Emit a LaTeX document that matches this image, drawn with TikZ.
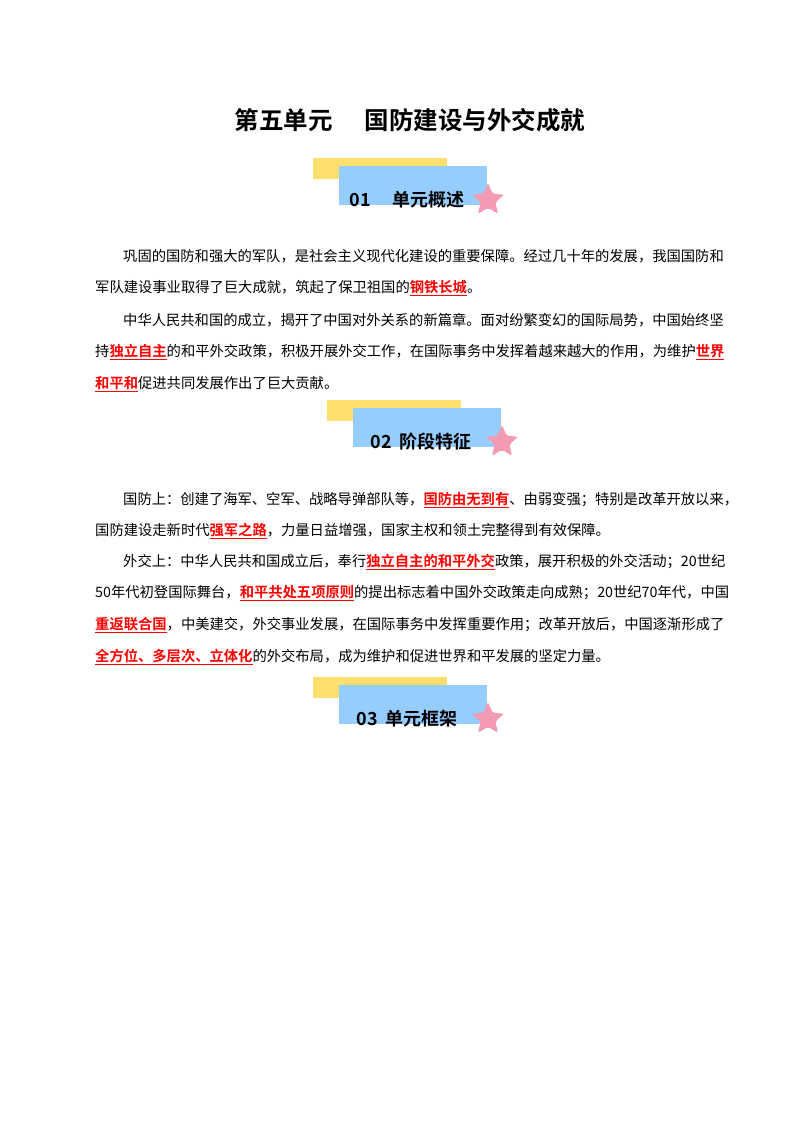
\documentclass[tikz,border=0pt]{standalone}
\usepackage{fontspec}
\setmainfont{Noto Sans CJK SC}[BoldFont=Noto Sans CJK SC Bold]
\usetikzlibrary{shapes.geometric}
\definecolor{ylw}{RGB}{255,224,110}
\definecolor{blu}{RGB}{150,205,255}
\definecolor{pnk}{RGB}{242,155,178}
\newcommand{\hl}[1]{\textcolor{red}{\bfseries\underline{#1}}}
\tikzset{
 ln/.style={anchor=west,inner sep=0pt,font=\fontsize{14.3}{16}\selectfont},
 hd/.style={inner sep=0pt,font=\fontsize{18}{20}\selectfont\bfseries},
 pstar/.style={star,star points=5,star point ratio=2.2,fill=pnk,minimum size=34pt,inner sep=0pt,rounded corners=2pt}
}
\newcommand{\banner}[4]{%
 \fill[ylw] (#1-26,#2-8) rectangle (#1+108,#2+13);
 \fill[blu] (#1,#2) rectangle (#1+148,#2+39);
 \node[pstar] (#4s) at (#1+149,#2+34) {};
 \node[hd] (#4) at (#1+68,#2+34) {#3};
}
\begin{document}
\begin{tikzpicture}[x=1pt,y=-1pt]
\useasboundingbox (0,0) rectangle (800,1132);
\fill[white] (0,0) rectangle (800,1132);
\node[inner sep=0pt,font=\fontsize{24.5}{26}\selectfont\bfseries] (title) at (410,120) {第五单元\hspace{1.3em}国防建设与外交成就};
\banner{339}{166}{01\hspace{1.2em}单元概述}{b1}
\node[ln] (p1) at (123,256) {巩固的国防和强大的军队，是社会主义现代化建设的重要保障。经过几十年的发展，我国国防和};
\node[ln] (p2) at (95,288) {军队建设事业取得了巨大成就，筑起了保卫祖国的\hl{钢铁长城}。};
\node[ln] (p3) at (123,320) {中华人民共和国的成立，揭开了中国对外关系的新篇章。面对纷繁变幻的国际局势，中国始终坚};
\node[ln] (p4) at (95,352) {持\hl{独立自主}的和平外交政策，积极开展外交工作，在国际事务中发挥着越来越大的作用，为维护\hl{世界}};
\node[ln] (p5) at (95,384) {\hl{和平和}促进共同发展作出了巨大贡献。};
\banner{353}{408}{02\hspace{0.4em}阶段特征}{b2}
\node[ln] (q1) at (123,500) {国防上：创建了海军、空军、战略导弹部队等，\hl{国防由无到有}、由弱变强；特别是改革开放以来，};
\node[ln] (q2) at (95,531) {国防建设走新时代\hl{强军之路}，力量日益增强，国家主权和领土完整得到有效保障。};
\node[ln] (q3) at (123,562) {外交上：中华人民共和国成立后，奉行\hl{独立自主的和平外交}政策，展开积极的外交活动；20世纪};
\node[ln] (q4) at (95,593) {50年代初登国际舞台，\hl{和平共处五项原则}的提出标志着中国外交政策走向成熟；20世纪70年代，中国};
\node[ln] (q5) at (95,625) {\hl{重返联合国}，中美建交，外交事业发展，在国际事务中发挥重要作用；改革开放后，中国逐渐形成了};
\node[ln] (q6) at (95,657) {\hl{全方位、多层次、立体化}的外交布局，成为维护和促进世界和平发展的坚定力量。};
\banner{339}{685}{03\hspace{0.4em}单元框架}{b3}
\end{tikzpicture}
\end{document}
